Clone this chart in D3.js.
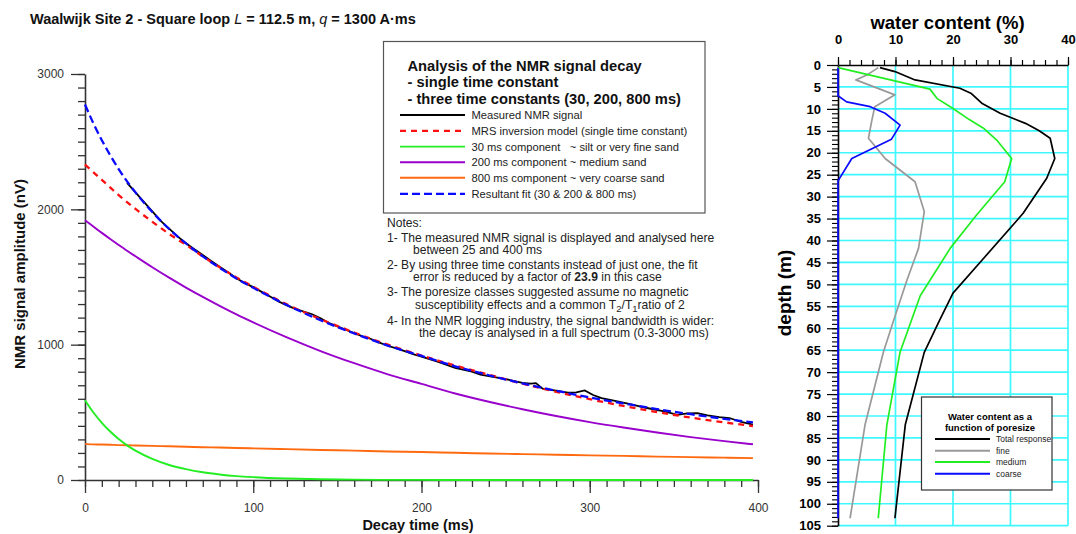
<!DOCTYPE html>
<html><head><meta charset="utf-8">
<script src="https://cdn.jsdelivr.net/npm/d3@7"></script>
<style>
body{margin:0;background:#fff;}
svg{display:block;font-family:"Liberation Sans",Arial,Helvetica,sans-serif;}
text{white-space:pre;}
</style></head><body>
<svg id="c" width="1076" height="534"></svg>
<script>
// ---------- LEFT CHART DATA (decay time in ms, amplitude in nV) ----------
const compTimes = [0,5,10,15,20,25,30,40,50,60,70,80,90,100,120,140,160,180,200,220,240,260,280,300,320,340,360,380,397];
const comp30  = [590,499,423,358,303,256,217,156,111,80,57,41,29,21,11,5,3,1,1,0,0,0,0,0,0,0,0,0,0];
const comp200 = [1920,1873,1826,1781,1737,1694,1653,1572,1495,1422,1353,1287,1224,1165,1054,953,863,781,710,639,578,523,473,428,388,351,317,287,264];
const comp800 = [265,263,262,260,258,257,255,252,249,246,242,240,236,234,228,222,217,211,207,201,196,191,187,182,178,173,169,165,162];
const fitTotal = [2775,2635,2511,2399,2298,2207,2125,1980,1855,1748,1652,1568,1489,1420,1293,1180,1083,993,917,840,774,714,660,610,566,524,486,452,426];

const mrsTimes = [0,10,20,30,40,50,60,70,80,90,100,120,140,160,180,200,220,240,260,280,300,320,340,360,380,397];
const mrsModel = [2330,2218,2105,2003,1908,1818,1738,1652,1572,1497,1428,1298,1188,1090,1000,920,846,778,712,652,597,547,502,461,426,399];

const measTimes = [25,30,35,40,45,50,55,60,65,70,75,80,85,90,95,100,105,110,115,120,125,130,135,140,145,150,155,160,165,170,175,180,185,190,195,200,210,220,230,235,240,250,260,265,268,272,280,287,292,297,302,307,315,324,334,345,352,358,364,370,377,383,390,397];
const measured = [2195,2125,2055,1985,1915,1858,1800,1750,1705,1662,1618,1575,1535,1490,1455,1425,1390,1356,1320,1290,1265,1245,1225,1195,1160,1135,1110,1085,1062,1042,1015,992,972,952,930,912,872,828,800,778,768,746,718,712,716,675,660,645,648,662,628,605,585,560,532,505,482,492,494,478,465,458,430,410];

const xTicksLeft = [0,100,200,300,400];
const yTicksLeft = [0,1000,2000,3000];

const legendLabels = ["Measured NMR signal","MRS inversion model (single time constant)","30 ms component   ~ silt or very fine sand","200 ms component ~ medium sand","800 ms component ~ very coarse sand","Resultant fit (30 & 200 & 800 ms)"];
const legendTitle = ["Analysis of the NMR signal decay","- single time constant","- three time constants (30, 200, 800 ms)"];

// ---------- RIGHT CHART DATA (depth m, water content %) ----------
const totalDepth = [0.6,1.5,3.4,5.3,6.5,8.7,11,13.3,15,16.7,21.3,25.8,33.8,44.1,52,58.1,65.5,82,103.3];
const totalWC    = [7.3,9.9,13.4,21.2,23.2,25,28.2,32.6,35,36.9,37.7,36.3,32.2,25.3,20,17.7,15,11.7,9.9];
const fineDepth  = [0.6,2.3,3.4,6.8,9.5,12.5,16.7,21.3,26.6,33.4,41.8,49,58.1,65.4,82,103.3];
const fineWC     = [7,5,3.1,9.9,6.4,5.9,5.3,8.2,13.4,15,14,12,9.7,7.9,4.7,2.1];
const medDepth   = [0.6,5.5,7.6,9.9,12.5,14.4,17.1,21.3,26.6,34.2,41.8,52.6,65.4,82,103.3];
const medWC      = [0,16,17.2,20,22.9,25.3,27.6,30.2,29,24.1,19.5,14.3,10.8,8.5,7];
const coarseDepth= [0.6,7,8.4,9.5,11,13.7,16.9,21.3,26.4,103.3];
const coarseWC   = [0,0,1.5,5.6,8.2,10.8,9.3,2.4,0,0];

const wcTicks = [0,10,20,30,40];
const depthTicks = d3.range(0,106,5);
const rightLegendLabels = ["Total response","fine","medium","coarse"];

// ---------- DRAW ----------
const svg = d3.select("#c");
const axisCol = "#333";

// Title
const title = svg.append("text").attr("x",30).attr("y",24).attr("font-size",14.5).attr("font-weight","bold").attr("fill","#111");
title.append("tspan").text("Waalwijk Site 2 - Square loop ");
title.append("tspan").attr("font-style","italic").attr("font-weight","normal").text("L");
title.append("tspan").text(" = 112.5 m, ");
title.append("tspan").attr("font-style","italic").attr("font-weight","normal").text("q");
title.append("tspan").text(" = 1300 A·ms");

// Left scales
const x = d3.scaleLinear().domain([0,400]).range([85,758]);
const y = d3.scaleLinear().domain([0,3000]).range([480,74]);

// minor ticks
svg.append("g").attr("transform","translate(0,480)")
  .call(d3.axisBottom(x).tickValues(d3.range(0,401,10)).tickSize(7).tickFormat("").tickSizeOuter(0))
  .call(g=>{g.select(".domain").remove();g.selectAll("line").attr("stroke",axisCol).attr("stroke-width",1.3);});
svg.append("g").attr("transform","translate(85,0)")
  .call(d3.axisLeft(y).tickValues(d3.range(0,3001,100)).tickSize(7).tickFormat("").tickSizeOuter(0))
  .call(g=>{g.select(".domain").remove();g.selectAll("line").attr("stroke",axisCol).attr("stroke-width",1.3);});
// major
svg.append("g").attr("transform","translate(0,480)")
  .call(d3.axisBottom(x).tickValues(xTicksLeft).tickSize(13).tickPadding(10).tickSizeOuter(0).tickFormat(d3.format("d")))
  .call(g=>{g.select(".domain").attr("stroke",axisCol).attr("stroke-width",1.6);
            g.selectAll("line").attr("stroke",axisCol).attr("stroke-width",1.3);
            g.selectAll("text").attr("font-size",12).attr("fill","#333").attr("font-family",null);});
svg.append("g").attr("transform","translate(85,0)")
  .call(d3.axisLeft(y).tickValues(yTicksLeft).tickSize(14).tickPadding(7).tickSizeOuter(0).tickFormat(d3.format("d")))
  .call(g=>{g.select(".domain").attr("stroke",axisCol).attr("stroke-width",1.6);
            g.selectAll("line").attr("stroke",axisCol).attr("stroke-width",1.3);
            g.selectAll("text").attr("font-size",12).attr("fill","#333").attr("font-family",null);});

svg.append("text").attr("x",418).attr("y",530).attr("text-anchor","middle").attr("font-size",14.5).attr("font-weight","bold").attr("fill","#111").text("Decay time (ms)");
svg.append("text").attr("transform","translate(25,274) rotate(-90)").attr("text-anchor","middle").attr("font-size",15).attr("font-weight","bold").attr("fill","#111").text("NMR signal amplitude (nV)");

// curves
const smooth = (tArr,vArr)=>d3.line().curve(d3.curveMonotoneX).x((d,i)=>x(tArr[i])).y(d=>y(d))(vArr);
const lin = (tArr,vArr)=>d3.line().x((d,i)=>x(tArr[i])).y(d=>y(d))(vArr);
const styles = [
  {c:"#000000",w:1.8,d:null},
  {c:"#ff1010",w:2.3,d:"6,5"},
  {c:"#22ee22",w:1.9,d:null},
  {c:"#9900cc",w:1.9,d:null},
  {c:"#ff6a10",w:1.9,d:null},
  {c:"#0a0aff",w:2.3,d:"8,4"}
];
const addPath = (dstr,s)=>svg.append("path").attr("d",dstr).attr("fill","none").attr("stroke",s.c).attr("stroke-width",s.w).attr("stroke-dasharray",s.d);
addPath(smooth(compTimes,comp200),styles[3]);
addPath(smooth(compTimes,comp800),styles[4]);
addPath(smooth(compTimes,comp30),styles[2]);
addPath(lin(measTimes,measured),styles[0]);
addPath(smooth(mrsTimes,mrsModel),styles[1]);
addPath(smooth(compTimes,fitTotal),styles[5]);

// left legend box
svg.append("rect").attr("x",383.5).attr("y",41.5).attr("width",321.5).attr("height",171.5).attr("fill","#fff").attr("stroke","#555").attr("stroke-width",1.2);
legendTitle.forEach((t,i)=>svg.append("text").attr("x",407.5).attr("y",71+i*16.3).attr("font-size",14.7).attr("font-weight","bold").attr("fill","#111").text(t));
const legY = [115,130.8,146.6,162.2,177.8,193.8];
legendLabels.forEach((t,i)=>{
  const s = styles[i];
  svg.append("line").attr("x1",400).attr("x2",465).attr("y1",legY[i]).attr("y2",legY[i]).attr("stroke",s.c).attr("stroke-width",s.w).attr("stroke-dasharray",s.d);
  svg.append("text").attr("x",471.5).attr("y",legY[i]+4).attr("font-size",11.2).attr("fill","#222").text(t);
});

// notes
const noteFs = 12.1;
const notes = [
  {x:387,y:227,t:"Notes:"},
  {x:387,y:242,t:"1- The measured NMR signal is displayed and analysed here"},
  {x:413,y:254,t:"between 25 and 400 ms"},
  {x:387,y:269,t:"2- By using three time constants instead of just one, the fit"},
  {x:387,y:296,t:"3- The poresize classes suggested assume no magnetic"},
  {x:387,y:325,t:"4- In the NMR logging industry, the signal bandwidth is wider:"},
  {x:419,y:337,t:"the decay is analysed in a full spectrum (0.3-3000 ms)"}
];
notes.forEach(n=>svg.append("text").attr("x",n.x).attr("y",n.y).attr("font-size",noteFs).attr("fill","#222").text(n.t));
const n2 = svg.append("text").attr("x",413).attr("y",281).attr("font-size",noteFs).attr("fill","#222");
n2.append("tspan").text("error is reduced by a factor of ");
n2.append("tspan").attr("font-weight","bold").text("23.9");
n2.append("tspan").text(" in this case");
const n3 = svg.append("text").attr("x",415).attr("y",309).attr("font-size",noteFs).attr("fill","#222");
n3.append("tspan").text("susceptibility effects and a common T");
n3.append("tspan").attr("dy",3).attr("font-size",9.5).text("2");
n3.append("tspan").attr("dy",-3).text("/T");
n3.append("tspan").attr("dy",3).attr("font-size",9.5).text("1");
n3.append("tspan").attr("dy",-3).text("ratio of 2");

// ---------- RIGHT CHART ----------
const xr = d3.scaleLinear().domain([0,40]).range([838,1068]);
const yr = d3.scaleLinear().domain([0,105]).range([65,525.7]);
const cyan = "#3ff8ff";
// grid
svg.append("g").selectAll("line").data(depthTicks.filter(d=>d>0)).join("line")
  .attr("x1",xr(0)).attr("x2",xr(40)).attr("y1",d=>yr(d)).attr("y2",d=>yr(d)).attr("stroke",cyan).attr("stroke-width",1.7);
svg.append("g").selectAll("line").data(wcTicks.filter(d=>d>0)).join("line")
  .attr("x1",d=>xr(d)).attr("x2",d=>xr(d)).attr("y1",yr(0)).attr("y2",yr(105)).attr("stroke",cyan).attr("stroke-width",1.7);

// axes
svg.append("g").attr("transform","translate(0,65)")
  .call(d3.axisTop(xr).tickValues(d3.range(0,41,2)).tickSize(5).tickFormat("").tickSizeOuter(0))
  .call(g=>{g.select(".domain").remove();g.selectAll("line").attr("stroke","#000").attr("stroke-width",1.2);});
svg.append("g").attr("transform","translate(0,65)")
  .call(d3.axisTop(xr).tickValues(wcTicks).tickSize(8).tickPadding(13).tickSizeOuter(0))
  .call(g=>{g.select(".domain").attr("stroke","#000").attr("stroke-width",1.6);
            g.selectAll("line").attr("stroke","#000").attr("stroke-width",1.2);
            g.selectAll("text").attr("font-size",13).attr("font-weight","bold").attr("fill","#000").attr("font-family",null);});
svg.append("g").attr("transform","translate(838,0)")
  .call(d3.axisLeft(yr).tickValues(d3.range(0,106,1)).tickSize(6).tickFormat("").tickSizeOuter(0))
  .call(g=>{g.select(".domain").remove();g.selectAll("line").attr("stroke","#000").attr("stroke-width",1.1);});
svg.append("g").attr("transform","translate(838,0)")
  .call(d3.axisLeft(yr).tickValues(depthTicks).tickSize(11).tickPadding(6).tickSizeOuter(0))
  .call(g=>{g.select(".domain").attr("stroke","#000").attr("stroke-width",1.6);
            g.selectAll("line").attr("stroke","#000").attr("stroke-width",1.2);
            g.selectAll("text").attr("font-size",13).attr("font-weight","bold").attr("fill","#000").attr("font-family",null);});

svg.append("text").attr("x",947.5).attr("y",29).attr("text-anchor","middle").attr("font-size",18.5).attr("font-weight","bold").attr("fill","#000").text("water content (%)");
svg.append("text").attr("transform","translate(791,293) rotate(-90)").attr("text-anchor","middle").attr("font-size",19).attr("font-weight","bold").attr("fill","#000").text("depth (m)");

const rStyles = [{c:"#000",w:1.7},{c:"#999999",w:1.7},{c:"#22ee22",w:1.7},{c:"#0a0aff",w:1.7}];
const profile = (dArr,wArr,s)=>svg.append("path")
  .attr("d",d3.line().x((d,i)=>xr(wArr[i])).y(d=>yr(d))(dArr))
  .attr("fill","none").attr("stroke",s.c).attr("stroke-width",s.w).attr("stroke-linejoin","round");
profile(fineDepth,fineWC,rStyles[1]);
profile(medDepth,medWC,rStyles[2]);
profile(coarseDepth,coarseWC,rStyles[3]);
profile(totalDepth,totalWC,rStyles[0]);

// right legend
svg.append("rect").attr("x",921.5).attr("y",397).attr("width",130.5).attr("height",93).attr("fill","#fff").attr("stroke","#333").attr("stroke-width",1.2);
svg.append("text").attr("x",990).attr("y",419.5).attr("text-anchor","middle").attr("font-size",9.5).attr("font-weight","bold").attr("fill","#000").text("Water content as a");
svg.append("text").attr("x",990).attr("y",430.5).attr("text-anchor","middle").attr("font-size",9.5).attr("font-weight","bold").attr("fill","#000").text("function of poresize");
const rLegY = [439,450.7,462,473.7];
rightLegendLabels.forEach((t,i)=>{
  svg.append("line").attr("x1",935).attr("x2",990).attr("y1",rLegY[i]).attr("y2",rLegY[i]).attr("stroke",rStyles[i].c).attr("stroke-width",2);
  svg.append("text").attr("x",996).attr("y",rLegY[i]+3).attr("font-size",8.5).attr("fill","#222").text(t);
});
</script></body></html>
